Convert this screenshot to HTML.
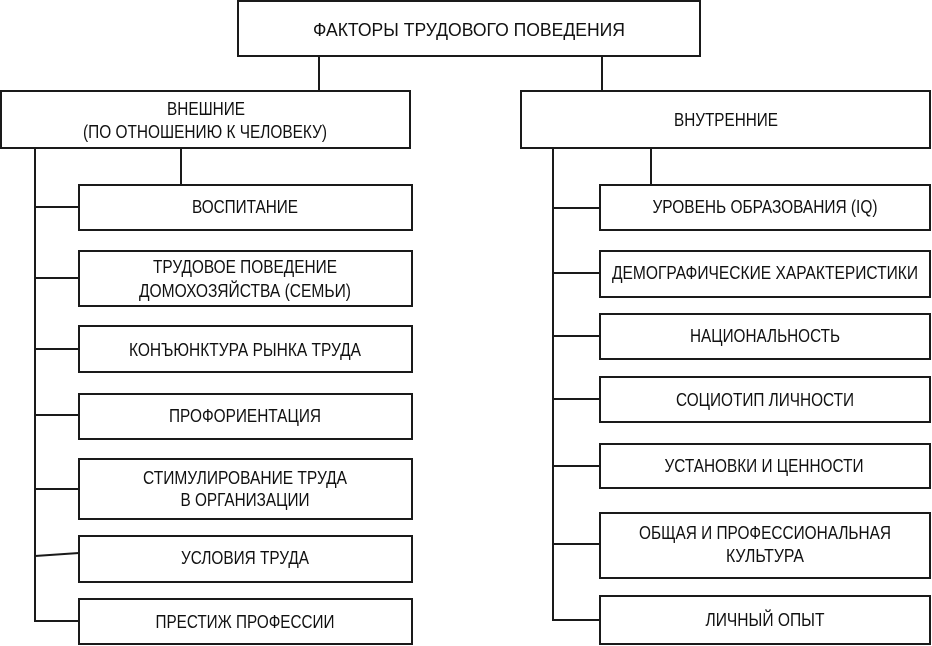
<!DOCTYPE html>
<html>
<head>
<meta charset="utf-8">
<style>
  html, body { margin: 0; padding: 0; background: #fff; }
  svg { display: block; }
  text { font-family: "Liberation Sans", "DejaVu Sans", sans-serif; font-size: 18px; fill: #111; }
</style>
</head>
<body>
<svg width="932" height="646" viewBox="0 0 932 646" xmlns="http://www.w3.org/2000/svg">
  <g fill="none" stroke="#1a1a1a" stroke-width="2">
    <!-- boxes -->
    <rect x="238" y="1" width="462" height="55"/>
    <rect x="1" y="91" width="409" height="57"/>
    <rect x="521" y="91" width="409" height="57"/>

    <rect x="79" y="185" width="333" height="45"/>
    <rect x="79" y="251" width="333" height="55"/>
    <rect x="79" y="326" width="333" height="46"/>
    <rect x="79" y="394" width="333" height="45"/>
    <rect x="79" y="459" width="333" height="60"/>
    <rect x="79" y="536" width="333" height="46"/>
    <rect x="79" y="599" width="333" height="45"/>

    <rect x="600" y="185" width="330" height="45"/>
    <rect x="600" y="251" width="330" height="46"/>
    <rect x="600" y="314" width="330" height="45"/>
    <rect x="600" y="377" width="330" height="45"/>
    <rect x="600" y="444" width="330" height="44"/>
    <rect x="600" y="513" width="330" height="65"/>
    <rect x="600" y="596" width="330" height="48"/>

    <!-- connectors -->
    <line x1="319" y1="56" x2="319" y2="91"/>
    <line x1="602" y1="56" x2="602" y2="91"/>
    <line x1="181" y1="148" x2="181" y2="185"/>
    <line x1="651" y1="148" x2="651" y2="185"/>

    <polyline points="35,148 35,622"/>
    <line x1="35" y1="207" x2="79" y2="207"/>
    <line x1="35" y1="278" x2="79" y2="278"/>
    <line x1="35" y1="349" x2="79" y2="349"/>
    <line x1="35" y1="415" x2="79" y2="415"/>
    <line x1="35" y1="489" x2="79" y2="489"/>
    <line x1="35" y1="556" x2="79" y2="553"/>
    <line x1="34" y1="621" x2="79" y2="621"/>

    <polyline points="553,148 553,620"/>
    <line x1="553" y1="208" x2="600" y2="208"/>
    <line x1="553" y1="273" x2="600" y2="273"/>
    <line x1="553" y1="336" x2="600" y2="336"/>
    <line x1="553" y1="399" x2="600" y2="399"/>
    <line x1="553" y1="466" x2="600" y2="466"/>
    <line x1="553" y1="544" x2="600" y2="544"/>
    <line x1="552" y1="620" x2="600" y2="620"/>
  </g>

  <g text-anchor="middle">
    <text x="469" y="36" textLength="312" lengthAdjust="spacingAndGlyphs">ФАКТОРЫ ТРУДОВОГО ПОВЕДЕНИЯ</text>

    <text x="206" y="115" textLength="78" lengthAdjust="spacingAndGlyphs">ВНЕШНИЕ</text>
    <text x="205" y="138" textLength="244" lengthAdjust="spacingAndGlyphs">(ПО ОТНОШЕНИЮ К ЧЕЛОВЕКУ)</text>
    <text x="726" y="126" textLength="104" lengthAdjust="spacingAndGlyphs">ВНУТРЕННИЕ</text>

    <text x="245" y="213" textLength="106" lengthAdjust="spacingAndGlyphs">ВОСПИТАНИЕ</text>
    <text x="245" y="273" textLength="184" lengthAdjust="spacingAndGlyphs">ТРУДОВОЕ ПОВЕДЕНИЕ</text>
    <text x="245" y="297" textLength="212" lengthAdjust="spacingAndGlyphs">ДОМОХОЗЯЙСТВА (СЕМЬИ)</text>
    <text x="245" y="356" textLength="232" lengthAdjust="spacingAndGlyphs">КОНЪЮНКТУРА РЫНКА ТРУДА</text>
    <text x="245" y="422" textLength="152" lengthAdjust="spacingAndGlyphs">ПРОФОРИЕНТАЦИЯ</text>
    <text x="245" y="484" textLength="204" lengthAdjust="spacingAndGlyphs">СТИМУЛИРОВАНИЕ ТРУДА</text>
    <text x="245" y="506" textLength="129" lengthAdjust="spacingAndGlyphs">В ОРГАНИЗАЦИИ</text>
    <text x="245" y="564" textLength="128" lengthAdjust="spacingAndGlyphs">УСЛОВИЯ ТРУДА</text>
    <text x="245" y="628" textLength="179" lengthAdjust="spacingAndGlyphs">ПРЕСТИЖ ПРОФЕССИИ</text>

    <text x="765" y="213" textLength="225" lengthAdjust="spacingAndGlyphs">УРОВЕНЬ ОБРАЗОВАНИЯ (IQ)</text>
    <text x="765" y="279" textLength="306" lengthAdjust="spacingAndGlyphs">ДЕМОГРАФИЧЕСКИЕ ХАРАКТЕРИСТИКИ</text>
    <text x="765" y="342" textLength="150" lengthAdjust="spacingAndGlyphs">НАЦИОНАЛЬНОСТЬ</text>
    <text x="765" y="406" textLength="178" lengthAdjust="spacingAndGlyphs">СОЦИОТИП ЛИЧНОСТИ</text>
    <text x="764" y="472" textLength="199" lengthAdjust="spacingAndGlyphs">УСТАНОВКИ И ЦЕННОСТИ</text>
    <text x="765" y="539" textLength="252" lengthAdjust="spacingAndGlyphs">ОБЩАЯ И ПРОФЕССИОНАЛЬНАЯ</text>
    <text x="765" y="562" textLength="78" lengthAdjust="spacingAndGlyphs">КУЛЬТУРА</text>
    <text x="765" y="626" textLength="119" lengthAdjust="spacingAndGlyphs">ЛИЧНЫЙ ОПЫТ</text>
  </g>
</svg>
</body>
</html>
